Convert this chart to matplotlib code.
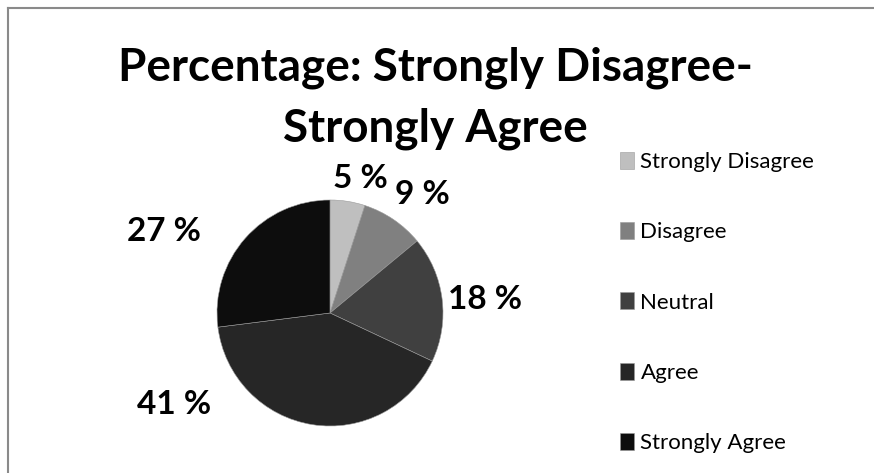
import matplotlib.pyplot as plt
from matplotlib.lines import Line2D

plt.rcParams['font.family'] = ['Lato', 'DejaVu Sans']

# Data
categories = ['Strongly Disagree', 'Disagree', 'Neutral', 'Agree', 'Strongly Agree']
percentages = [5, 9, 18, 41, 27]
colors = ['#bfbfbf', '#808080', '#404040', '#262626', '#0d0d0d']
# where each percentage label sits, in pie radii from the centre
label_pos = [(0.27, 1.19), (0.82, 1.05), (1.37, 0.12), (-1.38, -0.81), (-1.47, 0.72)]

fig = plt.figure(figsize=(8.74, 4.73), dpi=100)

# Frame lines along top and left
fig.add_artist(Line2D([8 / 874, 1], [1 - 8 / 473, 1 - 8 / 473], color='#8a8a8a', lw=1.5))
fig.add_artist(Line2D([8 / 874, 8 / 874], [0, 1 - 8 / 473], color='#8a8a8a', lw=1.5))

fig.text(0.498, 1 - 68 / 473, 'Percentage: Strongly Disagree-', ha='center', va='center',
         fontsize=33, fontweight='bold')
fig.text(0.498, 1 - 129 / 473, 'Strongly Agree', ha='center', va='center',
         fontsize=33, fontweight='bold')

# Pie
r_px = 113
cx, cy = 330, 313
ax = fig.add_axes([(cx - r_px) / 874, (473 - cy - r_px) / 473, 2 * r_px / 874, 2 * r_px / 473])
wedges, _ = ax.pie(percentages, colors=colors, startangle=90, counterclock=False,
                   radius=1, wedgeprops=dict(linewidth=0.4, edgecolor='#9a9a9a'))
ax.set_xlim(-1, 1)
ax.set_ylim(-1, 1)
ax.set_aspect('equal')
ax.axis('off')

for (lx, ly), p in zip(label_pos, percentages):
    ax.text(lx, ly, f'{p} %', ha='center', va='center', fontsize=24, fontweight='bold')

# Legend
fig.legend(wedges, categories, loc='upper left', bbox_to_anchor=(620 / 874, 1 - 152 / 473),
           frameon=False, fontsize=16, handlelength=0.62, handleheight=0.8,
           handletextpad=0.3, labelspacing=2.25, borderpad=0, borderaxespad=0)

fig.savefig('out.png', dpi=100)
